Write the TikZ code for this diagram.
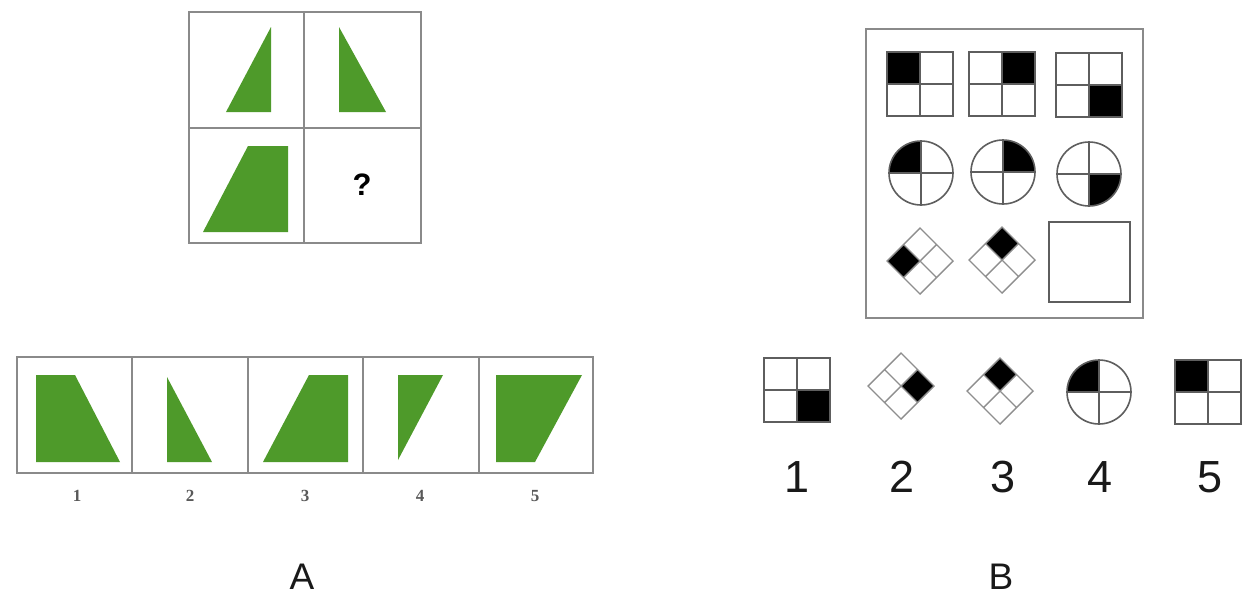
\documentclass[tikz,border=0pt]{standalone}
\usepackage{fontspec}
\setmainfont{Liberation Sans}
\newfontfamily\smallserif{Liberation Serif}
\definecolor{leaf}{HTML}{4E9A2A}
\definecolor{frame}{HTML}{8A8A8A}
\definecolor{iconline}{HTML}{5E5E5E}
\tikzset{
  gridline/.style={draw=frame, line width=2},
  leafshape/.style={fill=leaf},
  iconstroke/.style={draw=iconline, line width=1.6},
  lightstroke/.style={draw=iconline!70, line width=1.4},
  smalllabel/.style={font=\smallserif\bfseries\fontsize{17}{17}\selectfont, text=black!65},
  biglabel/.style={font=\fontsize{45}{45}\selectfont, text=black!90},
  panellabel/.style={font=\fontsize{37}{37}\selectfont, text=black!90},
}
% square icon split in four; #2 is the black quarter
\newcommand{\quartersquare}[2]{%
  \begin{scope}[shift={(#1)}]
    \fill #2;
    \draw[iconstroke] (-33,-32) rectangle (33,32) (-33,0) -- (33,0) (0,-32) -- (0,32);
  \end{scope}}
% circle icon split in four; #2 is the start angle of the black quarter
\newcommand{\quartercircle}[2]{%
  \begin{scope}[shift={(#1)}]
    \fill (0,0) -- (#2:32) arc[start angle=#2, delta angle=90, radius=32] -- cycle;
    \draw[iconstroke] (0,0) circle[radius=32] (-32,0) -- (32,0) (0,-32) -- (0,32);
  \end{scope}}
% diamond icon split in four; #2 is the black quarter
\newcommand{\quarterdiamond}[2]{%
  \begin{scope}[shift={(#1)}]
    \fill #2;
    \draw[lightstroke] (-33,0) -- (0,-33) -- (33,0) -- (0,33) -- cycle
      (-16.5,-16.5) -- (16.5,16.5) (16.5,-16.5) -- (-16.5,16.5);
  \end{scope}}
\begin{document}
\begin{tikzpicture}[x=1pt, y=-1pt]
\useasboundingbox (0,0) rectangle (1243,603);
\fill[white] (0,0) rectangle (1243,603);

% ---- panel A: 2x2 puzzle ----
\draw[gridline] (189,12) rectangle (421,243) (304,12) -- (304,243) (189,128) -- (421,128);
\fill[leafshape] (271,27) -- (271,112) -- (226,112) -- cycle;
\fill[leafshape] (339,27) -- (339,112) -- (386,112) -- cycle;
\fill[leafshape] (248,146) -- (288,146) -- (288,232) -- (203,232) -- cycle;
\node[font=\bfseries\fontsize{31}{31}\selectfont] (qmark) at (362,185) {?};

% ---- panel A: answer strip ----
\draw[gridline] (17,357) rectangle (593,473);
\foreach \xx in {132,248,363,479} \draw[gridline] (\xx,357) -- (\xx,473);
\fill[leafshape] (36,375) -- (75,375) -- (120,462) -- (36,462) -- cycle;
\fill[leafshape] (167,377) -- (212,462) -- (167,462) -- cycle;
\fill[leafshape] (309,375) -- (348,375) -- (348,462) -- (263,462) -- cycle;
\fill[leafshape] (398,375) -- (443,375) -- (398,460) -- cycle;
\fill[leafshape] (496,375) -- (582,375) -- (535,462) -- (496,462) -- cycle;
\node[smalllabel] (a1) at (77,496) {1};
\node[smalllabel] (a2) at (190,496) {2};
\node[smalllabel] (a3) at (305,496) {3};
\node[smalllabel] (a4) at (420,496) {4};
\node[smalllabel] (a5) at (535,496) {5};
\node[panellabel] (labA) at (302,577) {A};

% ---- panel B: 3x3 puzzle ----
\draw[gridline] (866,29) rectangle (1143,318);
\quartersquare{920,84}{(-33,-32) rectangle (0,0)}
\quartersquare{1002,84}{(0,-32) rectangle (33,0)}
\quartersquare{1089,85}{(0,0) rectangle (33,32)}
\quartercircle{921,173}{180}
\quartercircle{1003,172}{270}
\quartercircle{1089,174}{0}
\quarterdiamond{920,261}{(-33,0) -- (-16.5,-16.5) -- (0,0) -- (-16.5,16.5) -- cycle}
\quarterdiamond{1002,260}{(0,-33) -- (16.5,-16.5) -- (0,0) -- (-16.5,-16.5) -- cycle}
\draw[iconstroke, line width=2] (1049,222) rectangle (1130,302);

% ---- panel B: answer options ----
\quartersquare{797,390}{(0,0) rectangle (33,32)}
\quarterdiamond{901,386}{(33,0) -- (16.5,-16.5) -- (0,0) -- (16.5,16.5) -- cycle}
\quarterdiamond{1000,391}{(0,-33) -- (16.5,-16.5) -- (0,0) -- (-16.5,-16.5) -- cycle}
\quartercircle{1099,392}{180}
\quartersquare{1208,392}{(-33,-32) rectangle (0,0)}
\node[biglabel] (b1) at (797,477) {1};
\node[biglabel] (b2) at (902,477) {2};
\node[biglabel] (b3) at (1003,477) {3};
\node[biglabel] (b4) at (1100,477) {4};
\node[biglabel] (b5) at (1210,477) {5};
\node[panellabel] (labB) at (1001,577) {B};
\end{tikzpicture}
\end{document}
